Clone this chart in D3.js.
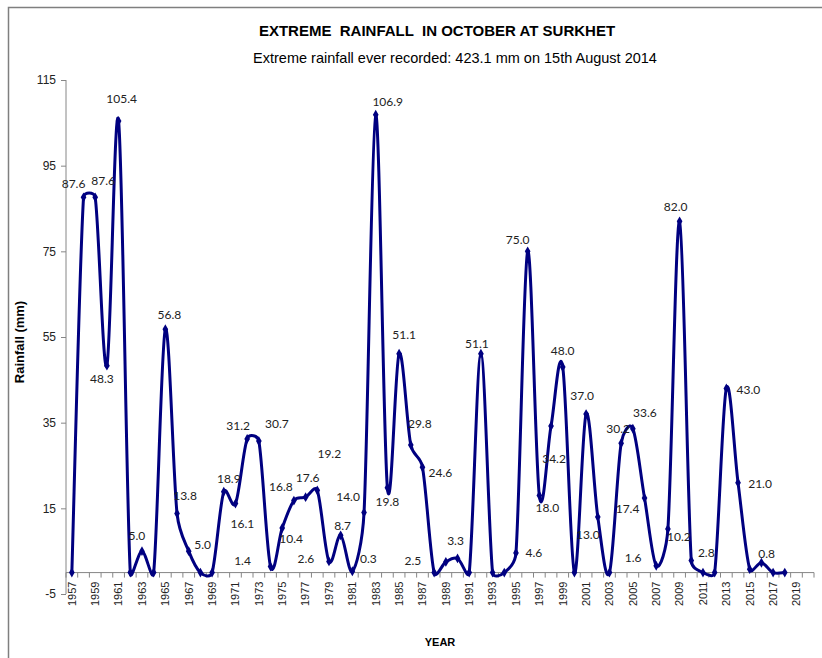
<!DOCTYPE html>
<html>
<head>
<meta charset="utf-8">
<script src="https://cdn.jsdelivr.net/npm/d3@7"></script>
<style>
  html, body { margin: 0; padding: 0; background: #fff; }
  svg { display: block; }
</style>
</head>
<body>
<svg id="chart" width="822" height="658"></svg>
<script>
// ---------------- DATA ----------------
const years = [1957,1958,1959,1960,1961,1962,1963,1964,1965,1966,1967,1968,1969,1970,
  1971,1972,1973,1974,1975,1976,1977,1978,1979,1980,1981,1982,1983,1984,1985,1986,1987,
  1988,1989,1990,1991,1992,1993,1994,1995,1996,1997,1998,1999,2000,2001,2002,2003,2004,
  2005,2006,2007,2008,2009,2010,2011,2012,2013,2014,2015,2016,2017,2018];
const rainfall = [0,87.6,87.6,48.3,105.4,0,5.0,0,56.8,13.8,5.0,0,0,18.9,
  16.1,31.2,30.7,1.4,10.4,16.8,17.6,19.2,2.6,8.7,0.3,14.0,106.9,19.8,51.1,29.8,24.6,
  0,2.5,3.3,0,51.1,0,0,4.6,75.0,18.0,34.2,48.0,0,37.0,13.0,0,30.2,
  33.6,17.4,1.6,10.2,82.0,2.8,0,0,43.0,21.0,0.8,2.3,0,0];
const dataLabels = [null,"87.6","87.6","48.3","105.4",null,"5.0",null,"56.8","13.8","5.0",null,null,"18.9",
  "16.1","31.2","30.7","1.4","10.4","16.8","17.6","19.2","2.6","8.7","0.3","14.0","106.9","19.8","51.1","29.8","24.6",
  null,"2.5","3.3",null,"51.1",null,null,"4.6","75.0","18.0","34.2","48.0",null,"37.0","13.0",null,"30.2",
  "33.6","17.4","1.6","10.2","82.0","2.8",null,null,"43.0","21.0","0.8",null,null,null];
const axisYears = [1957,1958,1959,1960,1961,1962,1963,1964,1965,1966,1967,1968,1969,1970,
  1971,1972,1973,1974,1975,1976,1977,1978,1979,1980,1981,1982,1983,1984,1985,1986,1987,
  1988,1989,1990,1991,1992,1993,1994,1995,1996,1997,1998,1999,2000,2001,2002,2003,2004,
  2005,2006,2007,2008,2009,2010,2011,2012,2013,2014,2015,2016,2017,2018,2019,2020];
const xTickLabels = [1957,1959,1961,1963,1965,1967,1969,1971,1973,1975,1977,1979,1981,1983,
  1985,1987,1989,1991,1993,1995,1997,1999,2001,2003,2005,2007,2009,2011,2013,2015,2017,2019];
const yTicks = [-5,15,35,55,75,95,115];
const titleText = "EXTREME  RAINFALL  IN OCTOBER AT SURKHET";
const subtitleText = "Extreme rainfall ever recorded: 423.1 mm on 15th August 2014";
const yTitle = "Rainfall (mm)";
const xTitle = "YEAR";

// ---------------- LAYOUT ----------------
const svg = d3.select("#chart");
const plot = { left: 66, right: 814, top: 80, bottom: 594 };
const lineColor = "#000080";
const axisColor = "#868686";
const labelFont = "Lato, 'Open Sans', sans-serif";
const baseFont = "'Liberation Sans', Arial, sans-serif";

// Label nudges (dx, dy from point to label centre) replicating the original placement
const labelNudge = {
  1958:[-10,-14],1959:[8,-17],1960:[-5,13],1961:[3,-22],1963:[-5,-15],1965:[4,-14],
  1966:[8,-18],1967:[14,-6],1970:[5,-13],1971:[7,20],1972:[-9,-13],1973:[18,-17],
  1974:[-28,-6],1975:[9,11],1976:[-13,-14],1977:[2,-19],1978:[12,-37],1979:[-23,-3],
  1980:[2,-10],1981:[16,-12],1982:[-16,-16],1983:[12,-13],1984:[0,14],1985:[5,-19],
  1986:[9,-21],1987:[18,6],1989:[-33,-1],1990:[-2,-18],1992:[-4,-10],1995:[18,0],
  1996:[-10,-12],1997:[8,12],1998:[3,33],1999:[0,-16],2001:[-4,-18],2002:[-10,18],
  2004:[-3,-14],2005:[12,-16],2006:[-17,11],2007:[-23,-8],2008:[11,8],2009:[-4,-15],
  2010:[15,-8],2013:[22,1],2014:[22,1],2015:[17,-15]
};

// Spreadsheet-style smoothed line (Bezier, tension 1/6, arms capped at half segment)
function CurveSmoothSheet(context) { this._context = context; }
CurveSmoothSheet.prototype = {
  areaStart() { this._line = 0; },
  areaEnd() { this._line = NaN; },
  lineStart() { this._pts = []; },
  point(x, y) { this._pts.push([+x, +y]); },
  lineEnd() {
    const p = this._pts, c = this._context, n = p.length;
    if (!n) return;
    c.moveTo(p[0][0], p[0][1]);
    const dist = (a, b) => Math.hypot(b[0] - a[0], b[1] - a[1]);
    for (let i = 0; i < n - 1; i++) {
      const p0 = p[i - 1] || p[i], p1 = p[i], p2 = p[i + 1], p3 = p[i + 2] || p[i + 1];
      const d02 = dist(p0, p2), d12 = dist(p1, p2), d13 = dist(p1, p3);
      let f0 = 1 / 6, f1 = 1 / 6;
      if (!((d02 / 6 < d12 / 2) && (d13 / 6 < d12 / 2))) {
        if (d02 / 6 >= d12 / 2 && d02 > 0) f0 = d12 / d02 / 2;
        if (d13 / 6 >= d12 / 2 && d13 > 0) f1 = d12 / d13 / 2;
      }
      const b1 = [p1[0] + (p2[0] - p0[0]) * f0, p1[1] + (p2[1] - p0[1]) * f0];
      const b2 = [p2[0] - (p3[0] - p1[0]) * f1, p2[1] - (p3[1] - p1[1]) * f1];
      c.bezierCurveTo(b1[0], b1[1], b2[0], b2[1], p2[0], p2[1]);
    }
  }
};
const curveSmoothSheet = ctx => new CurveSmoothSheet(ctx);

// outer chart border
svg.append("rect")
  .attr("x", 8.5).attr("y", 7.5).attr("width", 840).attr("height", 700)
  .attr("fill", "none").attr("stroke", "#7f7f7f").attr("stroke-width", 1.5);

const x = d3.scaleBand().domain(axisYears).range([plot.left, plot.right]).padding(0);
const cx = yr => x(yr) + x.bandwidth() / 2;
const y = d3.scaleLinear().domain([-5, 115]).range([plot.bottom, plot.top]);

// Y axis
const yAxis = svg.append("g")
  .attr("transform", `translate(${plot.left},0)`)
  .call(d3.axisLeft(y).tickValues(yTicks).tickSize(5).tickPadding(5).tickFormat(d => String(d)));
yAxis.select(".domain").attr("stroke", axisColor).attr("d", `M0,${plot.top}V${plot.bottom}`);
yAxis.selectAll(".tick line").attr("stroke", axisColor);
yAxis.selectAll(".tick text").attr("font-family", baseFont).attr("font-size", 12).attr("fill", "#222");

// X axis at y = 0
const y0 = y(0);
const xAxis = svg.append("g")
  .attr("transform", `translate(0,${y0})`)
  .call(d3.axisBottom(x).tickValues(xTickLabels).tickSize(0).tickPadding(0));
xAxis.select(".domain").attr("stroke", axisColor).attr("d", `M${plot.left},0H${plot.right}`);
xAxis.selectAll(".tick text")
  .attr("font-family", baseFont).attr("font-size", 11).attr("fill", "#222")
  .attr("transform", "rotate(-90)")
  .attr("text-anchor", "end")
  .attr("x", -9).attr("y", 0).attr("dy", "0.35em");
// boundary tick marks
const bounds = axisYears.map(d => x(d)).concat([plot.right]);
svg.append("g").selectAll("line").data(bounds).join("line")
  .attr("x1", d => d).attr("x2", d => d)
  .attr("y1", y0).attr("y2", y0 + 5)
  .attr("stroke", axisColor).attr("stroke-width", 1);

// Line
const pts = years.map((yr, i) => ({ year: yr, value: rainfall[i], label: dataLabels[i] }));
const line = d3.line().x(d => cx(d.year)).y(d => y(d.value)).curve(curveSmoothSheet);
svg.append("path").datum(pts)
  .attr("d", line).attr("fill", "none")
  .attr("stroke", lineColor).attr("stroke-width", 3).attr("stroke-linejoin", "round");

// Markers
svg.append("g").selectAll("path").data(pts).join("path")
  .attr("d", d3.symbol().type(d3.symbolDiamond).size(28))
  .attr("transform", d => `translate(${cx(d.year)},${y(d.value)})`)
  .attr("fill", lineColor);

// Data labels
svg.append("g").selectAll("text").data(pts.filter(d => d.label)).join("text")
  .attr("x", d => cx(d.year) + (labelNudge[d.year] || [0,-14])[0])
  .attr("y", d => y(d.value) + (labelNudge[d.year] || [0,-14])[1])
  .attr("dy", "0.35em")
  .attr("text-anchor", "middle")
  .attr("font-family", labelFont).attr("font-size", 12).attr("fill", "#222")
  .text(d => d.label);

// Titles
svg.append("text").attr("x", 437).attr("y", 36)
  .attr("text-anchor", "middle").attr("font-family", baseFont)
  .attr("font-weight", "bold").attr("font-size", 15).attr("fill", "#000")
  .style("white-space", "pre").text(titleText);
svg.append("text").attr("x", 455).attr("y", 63)
  .attr("text-anchor", "middle").attr("font-family", baseFont)
  .attr("font-size", 14.5).attr("fill", "#000").text(subtitleText);
svg.append("text")
  .attr("transform", "translate(24,342) rotate(-90)")
  .attr("text-anchor", "middle").attr("font-family", baseFont)
  .attr("font-weight", "bold").attr("font-size", 13).attr("fill", "#000").text(yTitle);
svg.append("text").attr("x", 440).attr("y", 646)
  .attr("text-anchor", "middle").attr("font-family", baseFont)
  .attr("font-weight", "bold").attr("font-size", 11).attr("fill", "#000").text(xTitle);
</script>
</body>
</html>
